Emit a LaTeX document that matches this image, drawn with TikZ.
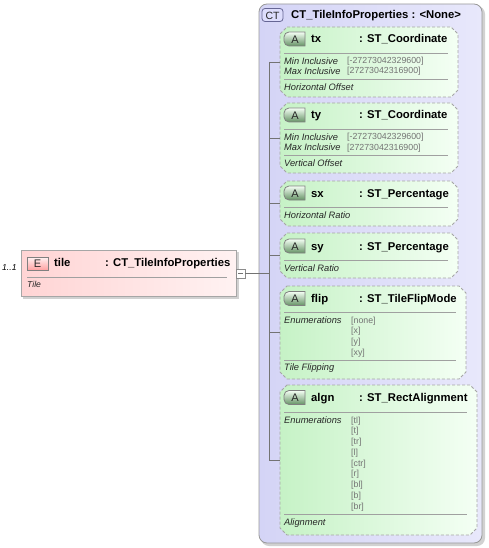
\documentclass[tikz,border=0pt]{standalone}
\usepackage{fontspec}
\setmainfont{Liberation Sans}
\definecolor{gL}{HTML}{C6F2C6}
\definecolor{gR}{HTML}{F4FFF4}
\definecolor{ctL}{HTML}{D4D4F6}
\definecolor{ctR}{HTML}{E8E8FB}
\definecolor{pL}{HTML}{FFD4D4}
\definecolor{pR}{HTML}{FFF2F2}
\definecolor{lineg}{HTML}{A0A0A0}
\tikzset{
  ttl/.style={font=\fontsize{11.3}{13}\selectfont\bfseries, anchor=base west, inner sep=0pt},
  sml/.style={font=\fontsize{9.3}{11}\selectfont\itshape, anchor=base west, inner sep=0pt, text=black!85},
  val/.style={font=\fontsize{8.8}{10}\selectfont, anchor=base west, inner sep=0pt, text=black!55},
  sepl/.style={draw=lineg, line width=0.9pt},
  gbox/.style={draw=black!35, line width=0.8pt, dash pattern=on 3pt off 2pt, left color=gL, right color=gR},
  abadge/.style={draw=black!50, line width=0.8pt, top color=gR, bottom color=gL!85!green!60!black},
  conn/.style={draw=black!55, line width=0.7pt},
  shadow/.style={fill=black!18},
  badgetxt/.style={font=\fontsize{11}{12}\selectfont, inner sep=0pt, text=black!85}
}
\newcommand\gbox[5]{%
  \path[gbox] (#2+7,#3) -- (#4-7,#3) -- (#4,#3+7) -- (#4,#5-7) -- (#4-7,#5) -- (#2+7,#5) -- (#2,#5-7) -- (#2,#3+7) -- cycle;
  \coordinate (#1) at (#2,{(#3+#5)/2});}
\newcommand\abadge[2]{%
  \path[abadge] (305,#2-7) [rounded corners=5pt] -- (284,#2-7) -- (284,#2+7) [sharp corners] -- (305,#2+7) -- cycle;
  \node[badgetxt] (#1) at (295,#2+0.5) {A};}
\begin{document}
\begin{tikzpicture}[x=1pt,y=-1pt]
\useasboundingbox (0,0) rectangle (489,548);
% outer complex type box
\fill[shadow, rounded corners=8pt] (261,6) rectangle (485,546);
\path[draw=black!40, line width=0.8pt, rounded corners=8pt, left color=ctL, right color=ctR] (259,4) rectangle (482,543);
\path[draw=blue!30!black!60, line width=0.8pt, rounded corners=3pt, fill=ctL!80!blue!40] (262,8.5) rectangle (283,21.5);
\node[badgetxt, font=\fontsize{10.5}{12}\selectfont] (ctb) at (272.5,15.5) {CT};
\node[ttl] (ctt) at (291,19) {CT\_TileInfoProperties : <None>};

% tile element box
\fill[shadow] (23,252) rectangle (239,299);
\path[draw=black!35, line width=0.8pt, left color=pL, right color=pR] (21,250) rectangle (236,296);
\path[draw=black!50, line width=0.8pt, top color=pR, bottom color=pL!60!red!75] (27,257) rectangle (48,270.5);
\node[badgetxt] (eb) at (37.5,264) {E};
\node[ttl] (tilen) at (54,266) {tile};
\node[ttl] (tilet) at (105,266) {: CT\_TileInfoProperties};
\draw[sepl] (27,277) -- (227,277);
\node[sml, font=\fontsize{8.6}{10}\selectfont\itshape] (tiled) at (27,287) {Tile};
\node[font=\fontsize{8.6}{10}\selectfont\itshape, anchor=base west, inner sep=0pt] (card) at (2,270) {1..1};
\node[draw=black!45, fill=white, line width=0.7pt, minimum width=9pt, minimum height=9pt, inner sep=0pt] (sq) at (240.5,273.5) {};
\draw[black!55, line width=0.7pt] (238,273.5) -- (243,273.5);

% attribute boxes
\gbox{txw}{280}{27}{458}{97}
\abadge{txa}{39}
\node[ttl] (txn) at (311,43) {tx};
\node[ttl] (txt) at (359,43) {: ST\_Coordinate};
\draw[sepl] (284,53) -- (448,53);
\node[sml] (txmin) at (284,64.3) {Min Inclusive};
\node[sml] (txmax) at (284,74.3) {Max Inclusive};
\node[val] (txminv) at (347,64) {[-27273042329600]};
\node[val] (txmaxv) at (347,74) {[27273042316900]};
\draw[sepl] (284,79) -- (448,79);
\node[sml] (txd) at (284,90.3) {Horizontal Offset};

\gbox{tyw}{280}{103}{458}{173}
\abadge{tya}{115}
\node[ttl] (tyn) at (311,119) {ty};
\node[ttl] (tyt) at (359,119) {: ST\_Coordinate};
\draw[sepl] (284,129) -- (448,129);
\node[sml] (tymin) at (284,140.3) {Min Inclusive};
\node[sml] (tymax) at (284,150.3) {Max Inclusive};
\node[val] (tyminv) at (347,140) {[-27273042329600]};
\node[val] (tymaxv) at (347,150) {[27273042316900]};
\draw[sepl] (284,155) -- (448,155);
\node[sml] (tyd) at (284,166.3) {Vertical Offset};

\gbox{sxw}{280}{181}{458}{226}
\abadge{sxa}{193}
\node[ttl] (sxn) at (311,197) {sx};
\node[ttl] (sxt) at (359,197) {: ST\_Percentage};
\draw[sepl] (284,207) -- (448,207);
\node[sml] (sxd) at (284,218.3) {Horizontal Ratio};

\gbox{syw}{280}{233}{458}{278}
\abadge{sya}{246}
\node[ttl] (syn) at (311,250) {sy};
\node[ttl] (syt) at (359,250) {: ST\_Percentage};
\draw[sepl] (284,260) -- (448,260);
\node[sml] (syd) at (284,271.3) {Vertical Ratio};

\gbox{flipw}{280}{286}{466}{379}
\abadge{flipa}{298.5}
\node[ttl] (flipn) at (311,302.5) {flip};
\node[ttl] (flipt) at (359,302.5) {: ST\_TileFlipMode};
\draw[sepl] (284,312) -- (456,312);
\node[sml] (flipe) at (284,323.3) {Enumerations};
\node[val] (flip1) at (351,323) {[none]};
\node[val] (flip2) at (351,333.7) {[x]};
\node[val] (flip3) at (351,344.4) {[y]};
\node[val] (flip4) at (351,355.1) {[xy]};
\draw[sepl] (284,360) -- (456,360);
\node[sml] (flipd) at (284,370.3) {Tile Flipping};

\gbox{algnw}{280}{385}{477}{535}
\abadge{algna}{397.5}
\node[ttl] (algnn) at (311,401.5) {algn};
\node[ttl] (algnt) at (359,401.5) {: ST\_RectAlignment};
\draw[sepl] (284,412) -- (467,412);
\node[sml] (algne) at (284,423.3) {Enumerations};
\node[val] (al1) at (351,423) {[tl]};
\node[val] (al2) at (351,433.75) {[t]};
\node[val] (al3) at (351,444.5) {[tr]};
\node[val] (al4) at (351,455.25) {[l]};
\node[val] (al5) at (351,466) {[ctr]};
\node[val] (al6) at (351,476.75) {[r]};
\node[val] (al7) at (351,487.5) {[bl]};
\node[val] (al8) at (351,498.25) {[b]};
\node[val] (al9) at (351,509) {[br]};
\draw[sepl] (284,514) -- (467,514);
\node[sml] (algnd) at (284,525.3) {Alignment};

% connectors
\coordinate (jtx) at (269,62);
\coordinate (jty) at (269,138);
\coordinate (jsx) at (269,203.5);
\coordinate (jsy) at (269,255.5);
\coordinate (jflip) at (269,332.5);
\coordinate (jalgn) at (269,460);
\coordinate (jmain) at (269,273.5);
\draw[conn] (jtx) -- (jalgn);
\draw[conn] (sq.east) -- (jmain);
\draw[conn] (jtx) -- (txw);
\draw[conn] (jty) -- (tyw);
\draw[conn] (jsx) -- (sxw);
\draw[conn] (jsy) -- (syw);
\draw[conn] (jflip) -- (flipw);
\draw[conn] (jalgn) -- (algnw);
\end{tikzpicture}
\end{document}
